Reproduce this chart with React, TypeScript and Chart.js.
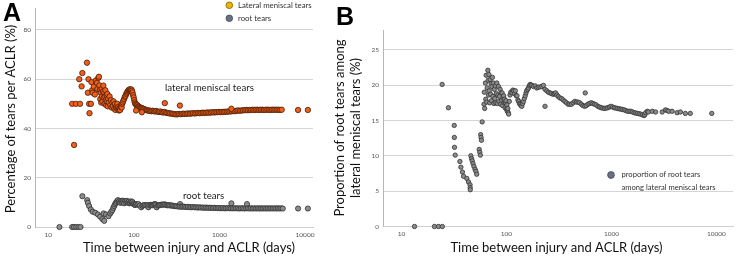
import React, { useEffect, useRef } from 'react';
import { Chart, registerables } from 'chart.js';
Chart.register(...registerables);

// ---------- Panel A data ----------
const lateralDays = [
  19, 20, 21, 23, 23.5, 24.5, 25, 28.3, 29, 29.5, 30, 30.3, 31.5, 32, 32.5, 33, 34, 35, 36, 37, 37.5, 38.5, 39, 39.5, 40,
  40.5, 41, 41.5, 42, 42.5, 43, 43.5, 44, 44.5, 45, 45.5, 46, 46.5, 47, 47.5, 48, 48.5, 49, 49.5, 50, 51, 52, 53, 54, 55,
  56, 57, 58, 59, 60, 61, 62, 63, 64, 65, 66, 67, 68, 69, 70, 71, 72, 73, 74, 75.5, 77, 78.5, 80, 81.5, 83, 84.5, 86,
  87.5, 89, 90.5, 92, 93.5, 95, 96.5, 98, 99.5, 101, 102.5, 104, 106, 108, 110, 112, 114.5, 117, 120, 123, 126, 129,
  133, 137, 141, 145, 150, 155, 160, 165, 171, 177, 183, 190, 197, 204, 212, 220, 228, 237, 246, 256, 266, 277, 288,
  300, 312, 325, 338, 352, 367, 382, 398, 415, 433, 452, 472, 493, 515, 538, 562, 587, 613, 640, 668, 698, 729, 761,
  795, 830, 867, 905, 945, 987, 1030, 1076, 1124, 1174, 1226, 1280, 1337, 1396, 1458, 1522, 1590, 1660, 1734, 1811,
  1891, 1975, 2062, 2153, 2249, 2348, 2452, 2561, 2674, 2793, 2916, 3045, 3180, 3321, 3468, 3621, 3782, 3949, 4124,
  4307, 4497, 4696, 4904, 5121, 5348, 8300, 10800,
  106, 124, 230, 345, 1380,
];
const lateralPct = [
  50, 33.3, 50, 60, 50, 57.1, 62.5, 66.7, 54.5, 60, 50, 46.2, 50, 58.8, 55.5, 54.5, 57, 53.8, 59.5, 58.5, 56, 60.5, 61, 57.5, 55.5,
  52, 54.5, 50.5, 56, 53, 51, 55, 57.4, 52.5, 54.5, 50, 53, 55.5, 51.5, 49.5, 53.5, 51, 54, 49, 52, 50.5, 53, 49.5, 51.5, 48.5,
  50.5, 49, 51, 48, 50, 47.5, 49, 48.3, 50, 47.8, 48.8, 47.3, 48.2, 47.5, 48.8, 49.5, 48.5, 50, 50.6, 51.3, 52, 52.8, 53.3, 54, 54.5, 55, 55.3,
  55.7, 55.6, 55.9, 55.5, 55.8, 55.3, 54.6, 53.5, 52.6, 51.5, 50.6, 50, 49.7, 49.3, 49.5, 49, 48.8, 48.6, 48.4, 48.3, 48.1, 48,
  47.8, 47.6, 47.4, 47.3, 47.3, 47.1, 47, 47.2, 47, 46.9, 47.1, 46.8, 46.7, 46.9, 46.6, 46.5, 46.7, 46.4, 46.3, 46.2, 46.1, 46, 45.9,
  45.8, 45.7, 45.8, 45.9, 45.8, 45.9, 46, 45.9, 46, 46.1, 46, 46.1, 46.2, 46.1, 46.2, 46.3, 46.2, 46.3, 46.4, 46.3, 46.4, 46.5, 46.4,
  46.5, 46.6, 46.5, 46.6, 46.6, 46.7, 46.6, 46.7, 46.7, 46.8, 46.8, 46.9, 46.9, 47, 47.1, 47, 47.2, 47.3, 47.2, 47.3,
  47.4, 47.4, 47.5, 47.4, 47.5, 47.5, 47.6, 47.5, 47.6, 47.6, 47.5, 47.6, 47.6, 47.5, 47.6, 47.6, 47.6, 47.5, 47.6,
  47.6, 47.6, 47.6, 47.6, 47.5, 47.6, 47.5, 47.5,
  47.3, 46.6, 50.3, 49.3, 48,
];

const rootDays = [
  13.5, 19, 20, 21.2, 22.5, 23.8, 25, 28.5, 29, 30, 31.4, 33, 35.4, 38, 40.4, 42.9, 45, 44.3, 47.3, 50.5, 52.9, 54.5,
  56.2, 57.5, 58.9, 60.2, 61.5, 63, 65, 66.5, 68, 69.5, 71, 72.5, 74, 75.5, 77, 79, 81, 83, 85, 87, 88.5, 90.5, 92.5,
  94.5, 96, 98, 100, 103, 106, 109.5, 113, 117, 122, 126, 130, 135, 140, 145, 148, 152, 157, 162, 167, 172, 177, 181,
  185, 190, 196, 203, 210, 217, 225, 232, 240, 248, 257, 266, 276, 286, 297, 308, 320, 333, 347, 348, 362, 377, 393,
  410, 428, 447, 467, 488, 510, 533, 557, 582, 608, 636, 665, 695, 727, 760, 795, 832, 870, 910, 952, 996, 1042, 1090,
  1140, 1193, 1248, 1306, 1366, 1380, 1429, 1495, 1564, 1636, 1711, 1790, 1872, 1958, 2048, 2100, 2142, 2241, 2344,
  2452, 2565, 2683, 2806, 2935, 3070, 3211, 3359, 3514, 3676, 3845, 4022, 4207, 4400, 4603, 4815, 5036, 5268, 5500,
  8300, 10800,
];
const rootPct = [
  0, 0, 0, 0, 0, 0, 12.5, 10.9, 9.8, 8.5, 7.1, 6.2, 5.8, 5.1, 4.2, 3.2, 2.5, 5.5, 5.1, 4.4, 5.5, 6.2,
  6.9, 7.8, 8.5, 9.2, 9.8, 10.3, 10.9, 10.2, 10.6, 9.8, 10.6, 10, 10.7, 10.2, 9.6, 10.5, 10, 10.6, 9.9, 10.3, 9.6, 9.8, 10.4,
  9.9, 10.2, 9.6, 9.2, 8.9, 9.3, 9.1, 9.3, 8.7, 8, 8.6, 8.9, 8.9, 8.7, 8.9, 8, 8.8, 9, 8.9, 8.8, 9.2, 9.3, 9,
  8, 8.7, 8.9, 8.9, 9.1, 9, 9.2, 9.1, 8.9, 8.8, 8.9, 8.7, 8.8, 8.6, 8.5, 8.5, 8.4, 8.3, 9.3, 8.3, 8.2, 8.3, 8.2,
  8.1, 8.2, 8.1, 8, 8.1, 8, 8, 7.9, 8, 7.9, 7.9, 7.8, 7.9, 7.8, 7.8, 7.8, 7.7, 7.8, 7.7, 7.7, 7.7, 7.6, 7.7,
  7.6, 7.6, 7.7, 7.6, 7.6, 9.6, 7.6, 7.6, 7.6, 7.6, 7.5, 7.6, 7.6, 7.5, 7.6, 9.3, 7.6, 7.5, 7.6,
  7.5, 7.6, 7.5, 7.6, 7.5, 7.6, 7.5, 7.6, 7.5, 7.6, 7.5, 7.6, 7.5, 7.6, 7.5, 7.6, 7.5, 7.6, 7.5,
  7.5, 7.5,
];

// ---------- Panel B data ----------
const propDays = [
  13.3, 20.6, 22.5, 24.5, 24.4, 28, 31.8, 31.9, 32, 32.5, 36, 36.8, 38.1, 39, 41.9, 43.5, 45, 45.1, 45.2, 45.8, 46.5,
  47.2, 48, 49, 50.2, 51.2, 52.1, 55, 55.7, 56.4, 56.8, 57.3, 57.8, 58.7, 61.1, 62, 61.5,
  63, 63.5, 64, 64.8, 65.5, 66.5, 67, 67.5, 68, 68.6, 69.2, 70, 70.7, 71.4, 72, 72.8, 73.5, 74.2, 75, 75.8, 76.6, 77.4,
  78.2, 79, 80, 81, 82, 83, 84, 85, 86, 87, 88, 89, 90, 91, 92, 93, 94, 95, 96, 97, 98, 99, 100, 101, 102, 103, 104, 105,
  106.5, 108, 110, 113, 115, 117, 119.5, 121.6, 124, 126, 128.5, 130.7, 133, 135, 137.5, 140, 142.5, 145, 148, 151,
  153.5, 156, 159, 162, 165, 168, 171.5, 175, 181, 188, 194, 201, 209, 217, 225, 233, 233, 242, 251, 260, 269, 279,
  286, 294, 302, 311, 322, 335, 347, 360, 373, 387, 401, 416, 432, 448, 464, 481, 498, 517, 536, 556, 563, 576, 597,
  619, 642, 666, 691, 717, 743, 770, 798, 828, 858, 890, 923, 957, 992, 1029, 1066, 1105, 1146, 1188, 1232, 1277,
  1325, 1373, 1424, 1477, 1531, 1588, 1647, 1707, 1770, 1836, 1903, 1973, 2046, 2080, 2121, 2199, 2250, 2449, 2634,
  3046, 3275, 3400, 3522, 3788, 4221, 4538, 5061, 5641, 9036,
];
const propPct = [
  0, 0, 0, 0, 20.1, 16.8, 14.3, 12.6, 11.2, 10.1, 9.2, 8.4, 7.7, 7.1, 6.8, 6.3, 5.9, 5.5, 5.2, 10, 9.6,
  9.3, 8.9, 8.5, 8.1, 7.8, 7.4, 10.9, 10.5, 10.1, 13, 12.6, 12.2, 14.8, 17.3, 16.7, 19,
  20.3, 18, 21.4, 17.6, 19.6, 22.1, 20.7, 18.6, 21.5, 19.2, 17.5, 20.8, 18.7, 20.2, 17.8, 19.8, 21.1, 18.4, 20.3, 17.4, 19.4, 18.1,
  19.9, 17.5, 18.8, 20.3, 17.4, 18.6, 19.8, 17.7, 18.4, 19.4, 17.3, 18.9, 17.9, 18.9, 17.1, 18.2, 18.5, 17.5, 18, 16.8, 17.5, 17.8, 16.6, 17.2, 16.3, 16.7, 16.1, 15.9,
  17.7, 18.6, 19, 18.9, 19.3, 19.2, 18.8, 19.2, 18.5, 18.5, 17.9, 17.7, 17.4, 17.3, 17.1, 17, 17.4, 17.7, 18.1, 18.5,
  18.9, 19.2, 19.4, 19.6, 19.9, 20.1, 20, 19.97, 19.8, 19.9, 19.6, 19.7, 19.75, 19.8, 19.97, 19.4, 17, 19.2, 19, 18.9, 18.8, 18.7,
  18.8, 18.9, 18.6, 18.4, 18.2, 18.1, 17.9, 17.7, 17.5, 17.3, 17.3, 17.3, 17.5, 17.7, 17.6, 17.6, 17.5, 17.3, 17.1, 17, 18.9, 17.1, 17.3,
  17.4, 17.5, 17.4, 17.3, 17.2, 17, 16.9, 16.8, 16.75, 16.7, 16.75, 16.8, 16.9, 17, 16.9, 16.8, 16.75, 16.7, 16.65, 16.6, 16.55,
  16.5, 16.4, 16.3, 16.3, 16.3, 16.2, 16.1, 16.05, 16, 15.95, 15.9, 15.8, 15.7, 15.8, 16.1, 16.3, 16.2, 16.3, 16.2,
  16.2, 16.5, 16.4, 16.3, 16.3, 16.1, 16.2, 16, 16, 16,
];

const xTickValues = [10, 100, 1000, 10000];
const yTicksA = [0, 20, 40, 60, 80];
const yTicksB = [0, 5, 10, 15, 20, 25];

const TITLE_FONT = 'Lato, "Open Sans", sans-serif';
const TICK_FONT = 'Lato, "Open Sans", sans-serif';

const toPoints = (xs: number[], ys: number[]) => xs.map((x, i) => ({ x, y: ys[i] }));

function axisX(min: number, max: number, height: number) {
  return {
    type: 'logarithmic' as const,
    min,
    max,
    afterBuildTicks: (s: any) => { s.ticks = xTickValues.map((v) => ({ value: v })); },
    afterFit: (s: any) => { s.height = height; },
    ticks: {
      autoSkip: false, maxRotation: 0, padding: 4, color: '#555',
      font: { family: TICK_FONT, size: 6.5 },
      callback: (v: any) => String(v),
    },
    grid: { display: false, drawTicks: false },
    border: { display: true, color: '#cfcfcf', width: 1 },
  };
}

function axisY(max: number, ticks: number[], width: number) {
  return {
    type: 'linear' as const,
    min: 0,
    max,
    afterBuildTicks: (s: any) => { s.ticks = ticks.map((v) => ({ value: v })); },
    afterFit: (s: any) => { s.width = width; },
    ticks: { padding: 4, color: '#555', font: { family: TICK_FONT, size: 6.5 } },
    grid: { color: '#d5d5d5', drawTicks: false, lineWidth: 1 },
    border: { display: true, color: '#b5b5b5', width: 1 },
  };
}

function text(ctx: CanvasRenderingContext2D, s: string, x: number, y: number, font: string, color: string, align: CanvasTextAlign = 'left', rot = 0) {
  ctx.save();
  ctx.translate(x, y);
  if (rot) ctx.rotate(rot);
  ctx.font = font;
  ctx.fillStyle = color;
  ctx.textAlign = align;
  ctx.textBaseline = 'middle';
  ctx.fillText(s, 0, 0);
  ctx.restore();
}

function dot(ctx: CanvasRenderingContext2D, x: number, y: number, r: number, fill: string, stroke: string) {
  ctx.save();
  ctx.beginPath();
  ctx.arc(x, y, r, 0, Math.PI * 2);
  ctx.fillStyle = fill;
  ctx.fill();
  ctx.lineWidth = 0.8;
  ctx.strokeStyle = stroke;
  ctx.stroke();
  ctx.restore();
}

const decorA = {
  id: 'decorA',
  afterDraw(chart: any) {
    const ctx = chart.ctx as CanvasRenderingContext2D;
    ctx.save();
    ctx.font = 'bold 25px "Liberation Sans", Arial, sans-serif';
    ctx.fillStyle = '#000';
    ctx.textBaseline = 'alphabetic';
    ctx.fillText('A', 3, 20.5);
    ctx.restore();
    text(ctx, 'Percentage of tears per ACLR (%)', 11, 119, `13px ${TITLE_FONT}`, '#111', 'center', -Math.PI / 2);
    text(ctx, 'Time between injury and ACLR (days)', 189, 247.5, `13px ${TITLE_FONT}`, '#111', 'center');
    dot(ctx, 229.3, 5.3, 3.3, '#f4b400', '#7a6000');
    text(ctx, 'Lateral meniscal tears', 238, 5.5, `7.8px ${TITLE_FONT}`, '#333');
    dot(ctx, 229.3, 18.3, 3.3, '#6b7080', '#444a58');
    text(ctx, 'root tears', 238, 18.5, `7.8px ${TITLE_FONT}`, '#333');
    text(ctx, 'lateral meniscal tears', 165, 87.5, `9.7px ${TITLE_FONT}`, '#222');
    text(ctx, 'root tears', 183, 196, `9.7px ${TITLE_FONT}`, '#222');
  },
};

const decorB = {
  id: 'decorB',
  afterDraw(chart: any) {
    const ctx = chart.ctx as CanvasRenderingContext2D;
    ctx.save();
    ctx.font = 'bold 25px "Liberation Sans", Arial, sans-serif';
    ctx.fillStyle = '#000';
    ctx.textBaseline = 'alphabetic';
    ctx.fillText('B', 6, 25);
    ctx.restore();
    text(ctx, 'Proportion of root tears among', 9.5, 128, `13px ${TITLE_FONT}`, '#111', 'center', -Math.PI / 2);
    text(ctx, 'lateral meniscal tears (%)', 25.5, 128, `13px ${TITLE_FONT}`, '#111', 'center', -Math.PI / 2);
    text(ctx, 'Time between injury and ACLR (days)', 226.5, 247.5, `13px ${TITLE_FONT}`, '#111', 'center');
    dot(ctx, 281, 175, 3.4, '#6b7080', '#444a58');
    text(ctx, 'proportion of root tears', 291.5, 174.5, `7.6px ${TITLE_FONT}`, '#333');
    text(ctx, 'among lateral meniscal tears', 291.5, 187.5, `7.6px ${TITLE_FONT}`, '#333');
  },
};

export default function App() {
  const refA = useRef<HTMLCanvasElement>(null);
  const refB = useRef<HTMLCanvasElement>(null);

  useEffect(() => {
    const chartA = new Chart(refA.current as HTMLCanvasElement, {
      type: 'scatter',
      data: {
        datasets: [
          {
            label: 'Lateral meniscal tears',
            data: toPoints(lateralDays, lateralPct),
            pointRadius: 2.7,
            backgroundColor: '#f0601a',
            borderColor: '#4a1d06',
            borderWidth: 0.8,
            clip: false,
          } as any,
          {
            label: 'root tears',
            data: toPoints(rootDays, rootPct),
            pointRadius: 2.6,
            backgroundColor: '#8d8d8d',
            borderColor: '#2f2f2f',
            borderWidth: 0.8,
            clip: false,
          } as any,
        ],
      },
      options: {
        animation: false,
        responsive: false,
        maintainAspectRatio: false,
        layout: { padding: { left: 0, right: 17, top: 8, bottom: 0 } },
        plugins: { legend: { display: false }, tooltip: { enabled: false } },
        scales: {
          x: axisX(6.99, 12404, 32) as any,
          y: axisY(88.9, yTicksA, 35) as any,
        },
      },
      plugins: [decorA],
    });

    const chartB = new Chart(refB.current as HTMLCanvasElement, {
      type: 'scatter',
      data: {
        datasets: [
          {
            label: 'proportion of root tears among lateral meniscal tears',
            data: toPoints(propDays, propPct),
            pointRadius: 2.2,
            backgroundColor: '#8a8a8a',
            borderColor: '#333333',
            borderWidth: 0.8,
            clip: false,
          } as any,
        ],
      },
      options: {
        animation: false,
        responsive: false,
        maintainAspectRatio: false,
        layout: { padding: { left: 0, right: 1, top: 30, bottom: 0 } },
        plugins: { legend: { display: false }, tooltip: { enabled: false } },
        scales: {
          x: axisX(6.665, 14460, 32.5) as any,
          y: axisY(27.8, yTicksB, 53) as any,
        },
      },
      plugins: [decorB],
    });

    return () => {
      chartA.destroy();
      chartB.destroy();
    };
  }, []);

  return (
    <div style={{ position: 'absolute', left: 0, top: 0, width: 738, height: 259, background: '#fff', overflow: 'hidden' }}>
      <canvas ref={refA} width={330} height={259} style={{ position: 'absolute', left: 0, top: 0, width: 330, height: 259 }} />
      <canvas ref={refB} width={408} height={259} style={{ position: 'absolute', left: 330, top: 0, width: 408, height: 259 }} />
    </div>
  );
}
